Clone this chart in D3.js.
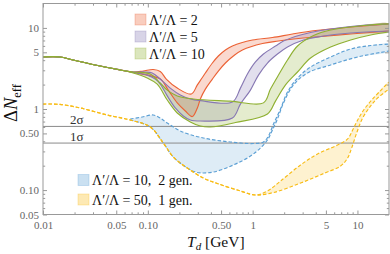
<!DOCTYPE html>
<html>
<head>
<meta charset="utf-8">
<script src="https://cdn.jsdelivr.net/npm/d3@7"></script>
<style>
  body { margin: 0; background: #fff; }
  svg { display: block; }
  text { font-family: "Liberation Serif", "DejaVu Serif", serif; white-space: pre; }
</style>
</head>
<body>
<script>
// ticks
var xTickVals = [0.01, 0.05, 0.1, 0.5, 1, 5, 10];
var xTickLabels = ["0.01", "0.05", "0.10", "0.50", "1", "5", "10"];
var xMinorVals = [0.02, 0.03, 0.04, 0.06, 0.07, 0.08, 0.09, 0.2, 0.3, 0.4, 0.6, 0.7, 0.8, 0.9, 2, 3, 4, 6, 7, 8, 9];
var yTickVals = [0.05, 0.1, 0.5, 1, 5, 10];
var yTickLabels = ["0.05", "0.10", "0.50", "1", "5", "10"];
var yMinorVals = [0.06, 0.07, 0.08, 0.09, 0.2, 0.3, 0.4, 0.6, 0.7, 0.8, 0.9, 2, 3, 4, 6, 7, 8, 9];

// sigma bounds on Delta N_eff
var sigmaLabels = ["2σ", "1σ"];
var sigmaValues = [0.61, 0.38];

// [T_d (GeV), Delta N_eff]
var commonStart = [[0.01, 4.38], [0.0145, 4.38], [0.0194, 4.02], [0.0351, 3.39], [0.0545, 3.03]];

var ratio2Upper = commonStart.concat([[0.0725, 2.86], [0.0904, 2.94], [0.1126, 3.07], [0.1314, 2.90], [0.150, 2.34], [0.191, 1.81], [0.260, 1.53], [0.297, 1.98], [0.354, 2.78], [0.413, 3.69], [0.471, 4.50], [0.550, 5.34], [0.641, 5.98], [0.995, 7.09], [1.546, 7.61], [2.40, 8.41], [3.98, 9.29], [8.61, 10.25], [20, 11.2]]);
var ratio2Lower = commonStart.concat([[0.0725, 2.82], [0.0987, 2.62], [0.1314, 2.34], [0.1567, 1.71], [0.191, 1.19], [0.228, 0.944], [0.266, 0.807], [0.297, 1.03], [0.317, 1.33], [0.354, 1.76], [0.413, 2.34], [0.471, 2.94], [0.550, 3.69], [0.655, 4.50], [0.799, 5.34], [1.241, 6.42], [1.765, 6.89], [2.74, 7.40], [3.98, 7.72], [8.61, 8.41], [20, 9.15]]);

var ratio5Upper = commonStart.concat([[0.0725, 2.86], [0.0944, 2.86], [0.1102, 2.78], [0.1314, 2.34], [0.1637, 1.81], [0.2041, 1.49], [0.2543, 1.33], [0.317, 1.27], [0.641, 1.22], [0.7645, 1.81], [0.892, 2.70], [1.064, 3.80], [1.268, 4.76], [1.652, 5.98], [1.970, 6.89], [2.864, 8.17], [4.448, 9.29], [8.61, 10.4], [20, 11.2]]);
var ratio5Lower = commonStart.concat([[0.0725, 2.82], [0.0987, 2.62], [0.1177, 2.34], [0.1314, 2.03], [0.1533, 1.45], [0.1828, 1.03], [0.218, 0.82], [0.2543, 0.731], [0.317, 0.711], [0.641, 0.774], [0.7645, 1.15], [0.953, 1.71], [1.137, 2.62], [1.385, 3.69], [1.726, 4.76], [2.151, 5.81], [3.06, 7.09], [4.448, 7.83], [8.61, 8.65], [20, 9.15]]);

var ratio10Upper = commonStart.concat([[0.0725, 2.86], [0.1054, 2.70], [0.1314, 2.09], [0.1533, 1.71], [0.191, 1.45], [0.2716, 1.33], [0.6135, 1.25], [1.268, 1.19], [1.480, 1.76], [1.765, 2.62], [2.151, 4.02], [2.682, 5.98], [3.813, 8.05], [5.543, 9.42], [11.47, 10.7], [20, 11.2]]);
var ratio10Lower = commonStart.concat([[0.0725, 2.78], [0.0987, 2.41], [0.123, 2.03], [0.1533, 1.29], [0.191, 0.893], [0.2543, 0.692], [0.317, 0.617], [0.395, 0.600], [0.685, 0.681], [1.385, 0.867], [1.652, 1.25], [2.06, 1.98], [2.682, 2.86], [3.569, 4.25], [5.543, 5.81], [8.61, 7.09], [13.37, 8.17], [20, 8.9]]);

var gen2Upper = [[0.0679, 0.753], [0.0884, 0.796], [0.1126, 0.844], [0.1314, 0.774], [0.1533, 0.672], [0.2041, 0.536], [0.3385, 0.439], [0.6135, 0.392], [1.018, 0.375], [1.268, 0.392], [1.416, 0.465], [1.581, 0.653], [1.844, 1.00], [2.151, 1.62], [2.682, 2.41], [3.569, 3.29], [5.543, 4.38], [8.61, 5.49], [13.37, 6.06], [20, 6.33]];
var gen2Lower = [[0.0679, 0.731], [0.1054, 0.600], [0.1404, 0.381], [0.1749, 0.256], [0.2381, 0.187], [0.2967, 0.165], [0.4219, 0.167], [0.6553, 0.204], [0.953, 0.263], [1.187, 0.330], [1.385, 0.415], [1.546, 0.551], [1.726, 0.753], [1.970, 1.19], [2.455, 1.98], [3.341, 2.78], [5.543, 3.49], [10.05, 4.38], [20, 5.19]];

var gen1Start = [[0.01, 1.15], [0.0145, 1.14], [0.0226, 1.03], [0.0409, 0.844], [0.0679, 0.731], [0.1054, 0.600], [0.1404, 0.381], [0.1749, 0.256], [0.2381, 0.187], [0.3385, 0.141], [0.4608, 0.1205], [0.7645, 0.0975], [1.064, 0.087]];
var gen1Upper = gen1Start.concat([[1.385, 0.0975], [1.844, 0.129], [2.864, 0.204], [4.164, 0.279], [6.467, 0.360], [8.06, 0.427], [9.00, 0.551], [10.05, 0.731], [11.47, 0.973], [13.97, 1.33], [20, 2.15]]);
var gen1Lower = gen1Start.concat([[1.581, 0.0933], [2.864, 0.122], [4.75, 0.160], [6.909, 0.198], [8.06, 0.249], [8.80, 0.330], [9.83, 0.506], [11.21, 0.774], [13.37, 1.09], [15.60, 1.37], [20, 1.76]]);

var bands = [
  { name: "Λ′/Λ = 2", upper: ratio2Upper, lower: ratio2Lower, color: "#eb6235", dashed: false },
  { name: "Λ′/Λ = 5", upper: ratio5Upper, lower: ratio5Lower, color: "#8778b3", dashed: false },
  { name: "Λ′/Λ = 10", upper: ratio10Upper, lower: ratio10Lower, color: "#8fb032", dashed: false },
  { name: "Λ′/Λ = 10,  2 gen.", upper: gen2Upper, lower: gen2Lower, color: "#5b9fd4", dashed: true },
  { name: "Λ′/Λ = 50,  1 gen.", upper: gen1Upper, lower: gen1Lower, color: "#f8bc16", dashed: true }
];

var width = 390, height = 254;
var plotLeft = 43, plotRight = 389, plotTop = 3.5, plotBottom = 214.5;

var svg = d3.select("body").append("svg").attr("width", width).attr("height", height);

var x = d3.scaleLog().domain([0.01, 20]).range([plotLeft, plotRight]);
var y = d3.scaleLog().domain([0.05, 20]).range([plotBottom, plotTop]);

svg.append("clipPath").attr("id", "plot")
  .append("rect").attr("x", plotLeft).attr("y", plotTop)
  .attr("width", plotRight - plotLeft).attr("height", plotBottom - plotTop);

var line = d3.line()
  .x(function (d) { return x(d[0]); })
  .y(function (d) { return y(d[1]); })
  .curve(d3.curveCatmullRom.alpha(0.5));

var plot = svg.append("g").attr("clip-path", "url(#plot)");

// filled bands
bands.forEach(function (b) {
  plot.append("path")
    .attr("d", line(b.upper.concat(b.lower.slice().reverse())) + "Z")
    .attr("fill", b.color)
    .attr("fill-opacity", b.dashed ? 0.2 : 0.24)
    .attr("stroke", "none");
});

// sigma lines
plot.selectAll(".sigma")
  .data(sigmaValues)
  .enter().append("line")
  .attr("x1", plotLeft).attr("x2", plotRight)
  .attr("y1", function (d) { return y(d); })
  .attr("y2", function (d) { return y(d); })
  .attr("stroke", "#8a8a8a").attr("stroke-width", 1);

svg.selectAll(".sigmaLabel")
  .data(sigmaLabels)
  .enter().append("text")
  .attr("x", 70)
  .attr("y", function (d, i) { return y(sigmaValues[i]) - 2.5; })
  .attr("font-size", 13)
  .attr("fill", "#333")
  .text(function (d) { return d; });

// band edges, blue before yellow so the shared part shows yellow
bands.forEach(function (b) {
  [b.upper, b.lower].forEach(function (edge) {
    plot.append("path")
      .attr("d", line(edge))
      .attr("fill", "none")
      .attr("stroke", b.color)
      .attr("stroke-width", 1.15)
      .attr("stroke-dasharray", b.dashed ? "3.5,2" : null);
  });
});

// frame and ticks
function styleAxis(g) {
  g.select(".domain").remove();
  g.selectAll(".tick line").attr("stroke", "#999");
  g.selectAll(".tick text").attr("fill", "#666").attr("font-size", 11)
    .attr("font-family", "Liberation Serif, serif");
}

svg.append("g").attr("transform", "translate(0," + plotBottom + ")")
  .call(d3.axisBottom(x).tickValues(xTickVals).tickSize(-4).tickPadding(7)
    .tickFormat(function (d, i) { return xTickLabels[i]; }))
  .call(styleAxis);
svg.append("g").attr("transform", "translate(0," + plotBottom + ")")
  .call(d3.axisBottom(x).tickValues(xMinorVals).tickSize(-2.2).tickFormat(""))
  .call(styleAxis);
svg.append("g").attr("transform", "translate(0," + plotTop + ")")
  .call(d3.axisTop(x).tickValues(xTickVals).tickSize(-4).tickFormat(""))
  .call(styleAxis);
svg.append("g").attr("transform", "translate(0," + plotTop + ")")
  .call(d3.axisTop(x).tickValues(xMinorVals).tickSize(-2.2).tickFormat(""))
  .call(styleAxis);

svg.append("g").attr("transform", "translate(" + plotLeft + ",0)")
  .call(d3.axisLeft(y).tickValues(yTickVals).tickSize(-4).tickPadding(4)
    .tickFormat(function (d, i) { return yTickLabels[i]; }))
  .call(styleAxis);
svg.append("g").attr("transform", "translate(" + plotLeft + ",0)")
  .call(d3.axisLeft(y).tickValues(yMinorVals).tickSize(-2.2).tickFormat(""))
  .call(styleAxis);
svg.append("g").attr("transform", "translate(" + plotRight + ",0)")
  .call(d3.axisRight(y).tickValues(yTickVals).tickSize(-4).tickFormat(""))
  .call(styleAxis);
svg.append("g").attr("transform", "translate(" + plotRight + ",0)")
  .call(d3.axisRight(y).tickValues(yMinorVals).tickSize(-2.2).tickFormat(""))
  .call(styleAxis);

svg.append("rect")
  .attr("x", plotLeft).attr("y", plotTop)
  .attr("width", plotRight - plotLeft).attr("height", plotBottom - plotTop)
  .attr("fill", "none").attr("stroke", "#999").attr("stroke-width", 1);

// legends
function legend(items, x0, y0, dy) {
  var g = svg.append("g");
  items.forEach(function (b, i) {
    g.append("rect")
      .attr("x", x0).attr("y", y0 + i * dy - 5.5)
      .attr("width", 11).attr("height", 11)
      .attr("fill", b.color).attr("fill-opacity", 0.32)
      .attr("stroke", b.color).attr("stroke-opacity", 0.35).attr("stroke-width", 0.8);
    g.append("text")
      .attr("x", x0 + 14).attr("y", y0 + i * dy + 5)
      .attr("font-size", 14)
      .attr("fill", "#111")
      .text(b.name);
  });
}
legend(bands.slice(0, 3), 135, 19.5, 17);
legend(bands.slice(3), 78, 180, 19.5);

// axis titles
var yt = svg.append("text")
  .attr("transform", "translate(17,103) rotate(-90)")
  .attr("text-anchor", "middle")
  .attr("font-size", 18.5)
  .attr("fill", "#111");
yt.append("tspan").text("Δ");
yt.append("tspan").attr("font-style", "italic").text("N");
yt.append("tspan").attr("font-size", 12.5).attr("dy", 4).text("eff");

var xt = svg.append("text")
  .attr("x", 187).attr("y", 247)
  .attr("font-size", 15.5)
  .attr("fill", "#111");
xt.append("tspan").attr("font-style", "italic").text("T");
xt.append("tspan").attr("font-style", "italic").attr("font-size", 11).attr("dy", 3).text("d");
xt.append("tspan").attr("dy", -3).text(" [GeV]");
</script>
</body>
</html>
